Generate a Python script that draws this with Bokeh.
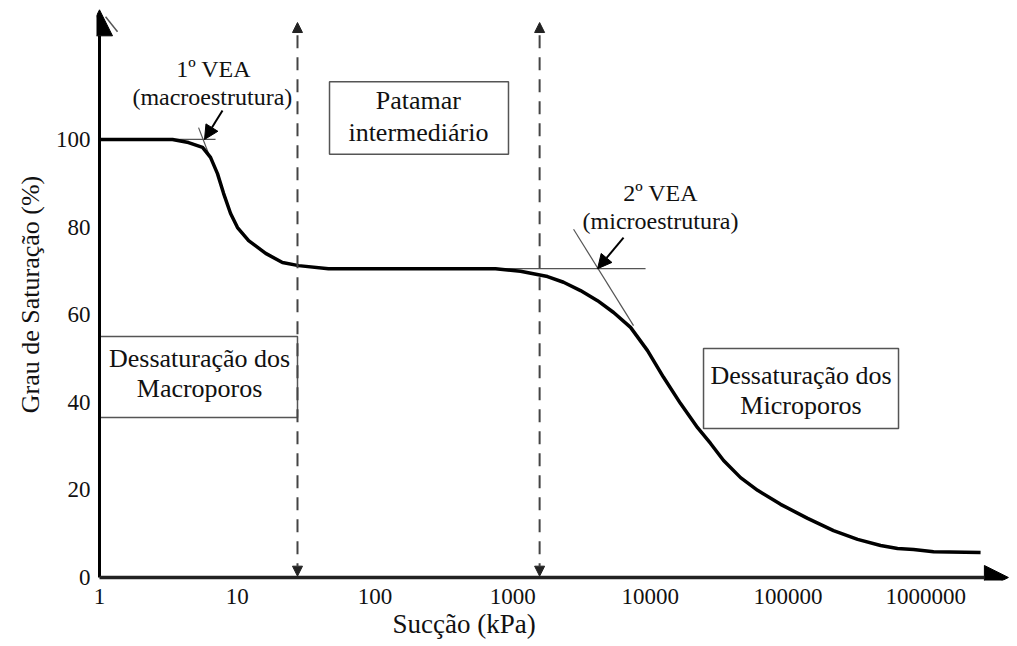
from bokeh.plotting import figure
from bokeh.models import Arrow, NormalHead, FixedTicker, NumeralTickFormatter, Range1d, Title
from bokeh.core.properties import value
from bokeh.embed import file_html
from bokeh.resources import INLINE

# ---------------- data ----------------
suction = [1, 3.39, 4.43, 5.60, 6.40, 7.19, 7.96, 8.95, 10.05, 12.1, 16.1, 21.3, 27.9, 46,
           751, 1141, 1792, 2342, 3112, 4137, 5411, 7183, 9540, 12470, 16570, 22030,
           27370, 34020, 45200, 60100, 88300, 138700, 213800, 319900, 469900, 623700,
           815000, 1140000, 2500000]
saturation = [100, 100, 99.3, 98.2, 95.9, 92.2, 87.7, 83.1, 79.9, 76.9, 74.0, 71.9, 71.2, 70.5,
              70.5, 69.9, 68.7, 67.4, 65.5, 63.2, 60.5, 57.1, 51.8, 45.7, 39.7, 34.2,
              30.6, 26.7, 22.8, 19.9, 16.7, 13.5, 10.7, 8.7, 7.3, 6.6,
              6.4, 5.9, 5.7]

x_ticks = [1, 10, 100, 1000, 10000, 100000, 1000000]
y_ticks = [0, 20, 40, 60, 80, 100]

boundaries = [27.4, 1570]          # dashed limits (kPa)
vea1 = (5.79, 100)                 # 1st air entry value
vea2 = (4140, 70.5)                # 2nd air entry value

FONT = value("Liberation Serif")

p = figure(width=1009, height=646, x_axis_type="log",
           x_range=Range1d(10 ** (-3 / 137.7), 10 ** 6.608), y_range=Range1d(-0.685, 129.9),
           min_border_left=96, min_border_right=0, min_border_top=8, min_border_bottom=66,
           output_backend="svg", toolbar_location=None)
p.outline_line_color = None
p.grid.visible = False
p.background_fill_color = "white"

for ax in (p.xaxis, p.yaxis):
    ax.axis_line_color = None
    ax.major_tick_line_color = None
    ax.minor_tick_line_color = None
    ax.major_tick_out = 0
    ax.major_tick_in = 0
    ax.minor_tick_out = 0
    ax.major_label_text_font = "Liberation Serif"
    ax.major_label_text_font_size = "23px"
    ax.major_label_text_color = "#111"

p.xaxis.ticker = FixedTicker(ticks=x_ticks)
p.xaxis.formatter = NumeralTickFormatter(format="0")
p.xaxis.major_label_standoff = 8
p.yaxis.ticker = FixedTicker(ticks=y_ticks)
p.yaxis.major_label_standoff = 6
p.yaxis.axis_label = "Grau de Saturação (%)"
p.yaxis.axis_label_text_font = "Liberation Serif"
p.yaxis.axis_label_text_font_style = "normal"
p.yaxis.axis_label_text_font_size = "26px"
p.yaxis.axis_label_text_color = "#111"
p.yaxis.axis_label_standoff = 8

# x title
p.add_layout(Title(text="Sucção (kPa)", align="left", offset=296, standoff=0,
                   text_font="Liberation Serif", text_font_size="27px",
                   text_font_style="normal", text_color="#111"), "below")

# axes arrows
p.add_layout(Arrow(end=NormalHead(size=26, fill_color="black", line_color="black"),
                   x_start=1, y_start=0, x_end=1, y_end=129.6, line_width=3, line_color="black"))
p.add_layout(Arrow(end=NormalHead(size=24, fill_color="black", line_color="black"),
                   x_start=1, y_start=0, x_end=10 ** 6.60, y_end=0, line_width=3.5, line_color="#222"))
p.segment(x0=[10 ** 0.044], y0=[128.0], x1=[10 ** 0.131], y1=[124.6], line_color="#555", line_width=1.5)

# dashed boundaries with arrow heads
for b in boundaries:
    p.add_layout(Arrow(start=NormalHead(size=10, fill_color="#222", line_color="#222"),
                       end=NormalHead(size=10, fill_color="#222", line_color="#222"),
                       x_start=b, y_start=0.3, x_end=b, y_end=126.7,
                       line_dash="13 9", line_width=2, line_color="#444"))

# boxes
p.quad(left=[1], right=[boundaries[0]], bottom=[36.5], top=[55.0],
       fill_color=None, line_color="#555", line_width=1.5)
p.quad(left=[46.8], right=[933], bottom=[96.6], top=[113.2],
       fill_color=None, line_color="#555", line_width=1.5)
p.quad(left=[24330], right=[634000], bottom=[34.0], top=[52.3],
       fill_color=None, line_color="#555", line_width=1.5)

# tangent construction lines
p.segment(x0=[3.39, 5.24, 750, 2770], y0=[100, 102.7, 70.5, 79.5],
          x1=[6.96, 6.19, 9230, 7550], y1=[100, 96.8, 70.5, 57.5],
          line_color="#555", line_width=1.2)

# main curve
p.line(suction, saturation, line_color="black", line_width=3.5, line_join="round")

# VEA arrows
p.add_layout(Arrow(end=NormalHead(size=14, fill_color="black", line_color="black"),
                   x_start=7.82, y_start=106.6, x_end=vea1[0], y_end=vea1[1],
                   line_width=2, line_color="black"))
p.add_layout(Arrow(end=NormalHead(size=14, fill_color="black", line_color="black"),
                   x_start=6390, y_start=77.6, x_end=vea2[0], y_end=vea2[1],
                   line_width=2, line_color="black"))

# texts
texts = [
    (6.73, 116.2, "1º VEA", "24px"),
    (6.6, 109.6, "(macroestrutura)", "24px"),
    (207, 108.9, "Patamar", "26px"),
    (207, 101.6, "intermediário", "26px"),
    (11860, 87.7, "2º VEA", "24px"),
    (11860, 81.5, "(microestrutura)", "24px"),
    (5.33, 50.0, "Dessaturação dos", "26px"),
    (5.33, 43.2, "Macroporos", "26px"),
    (124200, 46.1, "Dessaturação dos", "26px"),
    (124200, 39.3, "Microporos", "26px"),
]
for tx, ty, t, fs in texts:
    p.text(x=[tx], y=[ty], text=[t], text_font=FONT, text_font_size=fs,
           text_align="center", text_baseline="middle", text_color="#111")

open("out.html", "w").write(file_html(p, INLINE))
